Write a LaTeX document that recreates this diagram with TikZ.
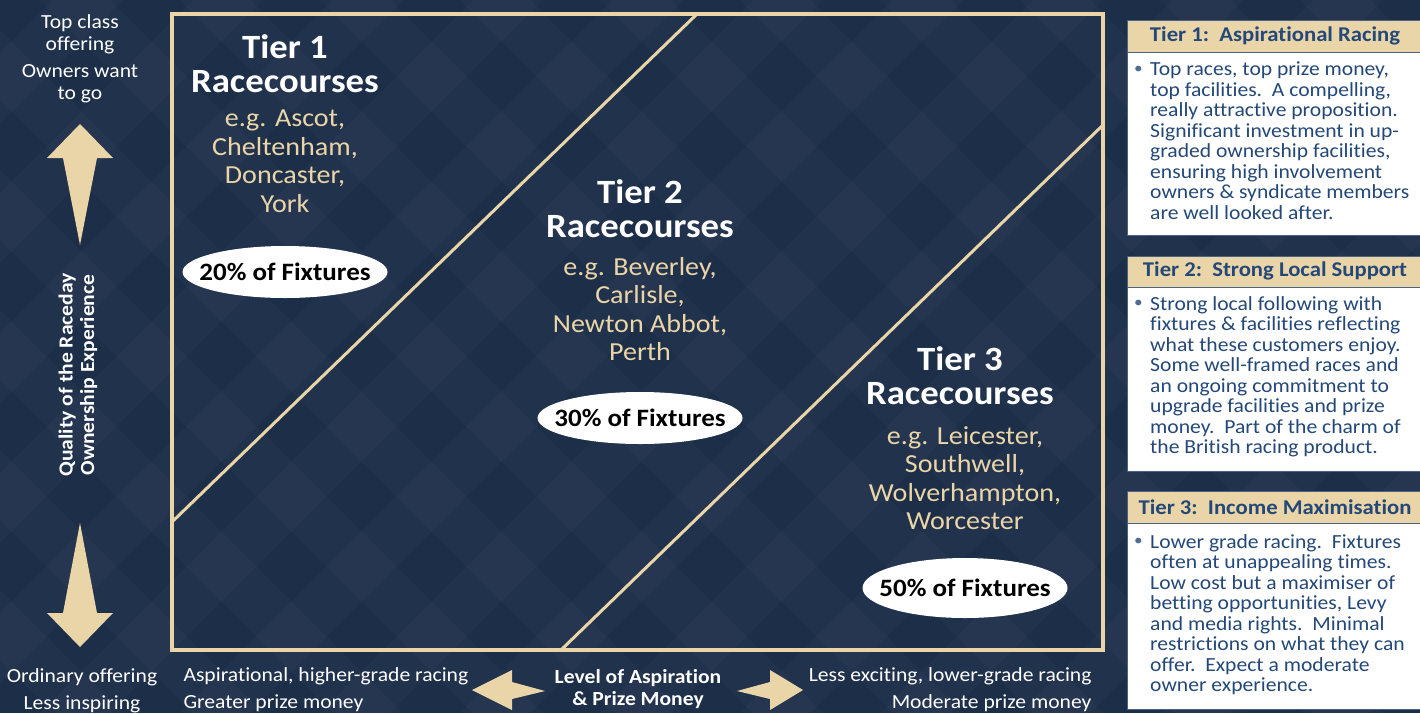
\documentclass[tikz,border=0pt]{standalone}
\usepackage{xcolor}
\usepackage{fontspec}
\setmainfont{Carlito}[FakeStretch=1.08, Ligatures=NoCommon]
\usetikzlibrary{shapes.geometric}

\definecolor{navy}{HTML}{1C2E48}
\definecolor{sand}{HTML}{EAD5A9}
\definecolor{inkblue}{HTML}{244878}
\definecolor{edgeblue}{HTML}{4A6286}

\tikzset{
  tiername/.style={text=white, font=\bfseries\fontsize{34}{34}\selectfont, align=center},
  tiercourses/.style={text=sand, font=\fontsize{26}{28.5}\selectfont, align=center},
  fixtures/.style={ellipse, fill=white, minimum width=205pt, minimum height=52pt, inner sep=0pt,
    font=\bfseries\fontsize{25}{26}\selectfont},
  sidelabel/.style={text=white, font=\fontsize{20}{22}\selectfont, align=center},
  axislabel/.style={text=white, font=\bfseries\fontsize{20}{21.5}\selectfont, align=center},
  panelhead/.style={fill=sand, draw=edgeblue, text=inkblue, anchor=north west,
    minimum width=300pt, minimum height=32pt, inner sep=0pt},
  panelbody/.style={fill=white, draw=edgeblue, anchor=north west, minimum width=300pt, inner sep=0pt},
  headtext/.style={text=inkblue, font=\bfseries\fontsize{21}{22}\selectfont},
  bodytext/.style={text=inkblue, font=\fontsize{20}{20.5}\selectfont, align=left, anchor=north west, inner sep=0pt},
  bullet/.style={text=inkblue!80, font=\fontsize{16}{16}\selectfont, anchor=north west, inner sep=0pt},
}

\begin{document}
\begin{tikzpicture}[x=1pt, y=-1pt]
  \useasboundingbox (0,0) rectangle (1420,713);

  % backdrop with faint diamond weave
  \fill[navy] (0,0) rectangle (1420,713);
  \begin{scope}
    \clip (0,0) rectangle (1420,713);
    \foreach \i in {-800,-660,...,1500} {
      \fill[white, opacity=0.025] (\i,0) -- ++(70,0) -- ++(713,713) -- ++(-70,0) -- cycle;
      \fill[white, opacity=0.025] (\i+713,0) -- ++(70,0) -- ++(-713,713) -- ++(-70,0) -- cycle;
    }
  \end{scope}

  % main frame and tier boundaries
  \draw[sand, line width=3.5pt] (172,14) rectangle (1103,650);
  \draw[sand, line width=3pt] (173,521) -- (697,14);
  \draw[sand, line width=3pt] (561,650) -- (1103,125);

  % tier 1
  \node[tiername] (t1) at (285,64) {Tier 1\\Racecourses};
  \node[tiercourses] (t1ex) at (285,161) {e.g. Ascot,\\Cheltenham,\\Doncaster,\\York};
  \node[fixtures] (t1fix) at (285,272) {\makebox[0pt]{20\% of Fixtures}};

  % tier 2
  \node[tiername] (t2) at (640,209) {Tier 2\\Racecourses};
  \node[tiercourses] (t2ex) at (640,309) {e.g. Beverley,\\Carlisle,\\Newton Abbot,\\Perth};
  \node[fixtures] (t2fix) at (640,418) {\makebox[0pt]{30\% of Fixtures}};

  % tier 3
  \node[tiername] (t3) at (960,376) {Tier 3\\Racecourses};
  \node[tiercourses] (t3ex) at (965,478) {e.g. Leicester,\\Southwell,\\Wolverhampton,\\Worcester};
  \node[fixtures, minimum height=60pt] (t3fix) at (965,588) {\makebox[0pt]{50\% of Fixtures}};

  % vertical axis
  \node[sidelabel] (top) at (80,34) {Top class\\offering};
  \node[sidelabel] (topb) at (80,84) {Owners want\\to go};
  \node[axislabel, rotate=90] (yaxis) at (78,375) {Quality of the Raceday\\Ownership Experience};
  \fill[sand] (80,124) -- (113,158) -- (97,158) -- (80,245) -- (63,158) -- (47,158) -- cycle;
  \fill[sand] (80,647) -- (113,613) -- (97,613) -- (80,523) -- (63,613) -- (47,613) -- cycle;
  \node[sidelabel] (low) at (82,691) {Ordinary offering\\[5pt]Less inspiring};

  % horizontal axis
  \node[sidelabel, align=left, anchor=west] (hi) at (180,690) {Aspirational, higher-grade racing\\[5pt]Greater prize money};
  \node[axislabel] (xaxis) at (638,689) {Level of Aspiration\\\& Prize Money};
  \node[sidelabel, align=right, anchor=east] (lo) at (1095,690) {Less exciting, lower-grade racing\\[5pt]Moderate prize money};
  \fill[sand] (472,690) -- (512,670) -- (512,682) -- (545,691) -- (512,699) -- (512,710) -- cycle;
  \fill[sand] (803,690) -- (770,670) -- (770,682) -- (737,691) -- (770,699) -- (770,710) -- cycle;

  % tier descriptions
  \node[panelhead] (h1) at (1127,20) {};
  \node[headtext] at (1275,36) {Tier 1:\ \ Aspirational Racing};
  \node[panelbody, minimum height=183pt] (b1) at (1127,52) {};
  \node[bullet] at (1134,66) {\textbullet};
  \node[bodytext] (d1) at (1150,62) {Top races, top prize money,\\top facilities.\ \ A compelling,\\really attractive proposition.\\Significant investment in up-\\graded ownership facilities,\\ensuring high involvement\\owners \& syndicate members\\are well looked after.};

  \node[panelhead] (h2) at (1127,256) {};
  \node[headtext] at (1275,271) {Tier 2:\ \ Strong Local Support};
  \node[panelbody, minimum height=184pt] (b2) at (1127,287) {};
  \node[bullet] at (1134,300) {\textbullet};
  \node[bodytext] (d2) at (1150,296) {Strong local following with\\fixtures \& facilities reflecting\\what these customers enjoy.\\Some well-framed races and\\an ongoing commitment to\\upgrade facilities and prize\\money.\ \ Part of the charm of\\the British racing product.};

  \node[panelhead] (h3) at (1127,491) {};
  \node[headtext] at (1275,507) {Tier 3:\ \ Income Maximisation};
  \node[panelbody, minimum height=186pt] (b3) at (1127,523) {};
  \node[bullet] at (1134,538) {\textbullet};
  \node[bodytext] (d3) at (1150,534) {Lower grade racing.\ \ Fixtures\\often at unappealing times.\\Low cost but a maximiser of\\betting opportunities, Levy\\and media rights.\ \ Minimal\\restrictions on what they can\\offer.\ \ Expect a moderate\\owner experience.};
\end{tikzpicture}
\end{document}
